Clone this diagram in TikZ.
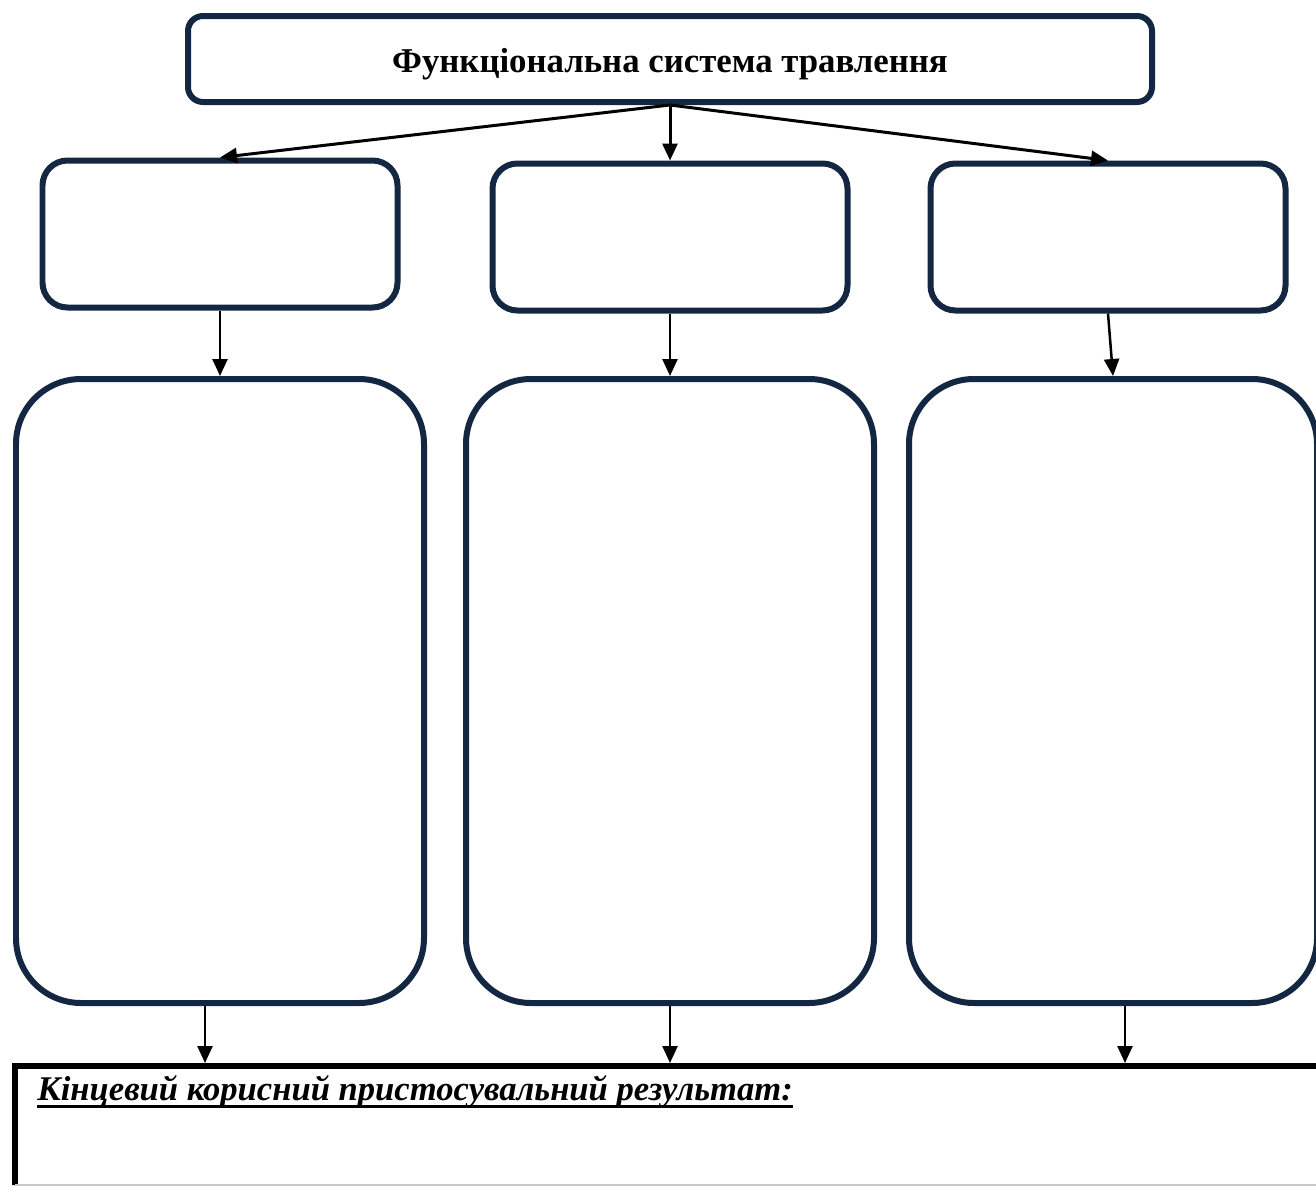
\documentclass[tikz,border=0pt]{standalone}
\usepackage{fontspec}
\setmainfont{Liberation Serif}
\usepackage{tikz}
\usetikzlibrary{arrows.meta,positioning}
\definecolor{fsNavy}{RGB}{20,39,66}
\definecolor{fsRule}{RGB}{200,200,200}
\newcommand{\pxu}{0.02cm}

\begin{document}
\begin{tikzpicture}[x=0.02cm,y=-0.02cm,
    box/.style={draw=fsNavy, line width=0.12cm, inner sep=0pt},
    headbox/.style={box, rounded corners=0.3cm, minimum width=964*\pxu, minimum height=86*\pxu},
    stagebox/.style={box, rounded corners=0.5cm, minimum width=355*\pxu, minimum height=147*\pxu},
    tallbox/.style={box, rounded corners=1.3cm, minimum width=408*\pxu, minimum height=624*\pxu},
    arr/.style={-{Triangle[length=0.34cm,width=0.3cm]}, line width=0.05cm}]
    \clip (0,0) rectangle (1316,1187);

    % header
    \node[headbox, text height=0.6cm, text depth=0.08cm] (sys) at (670,59)
        {\fontsize{19.8}{24}\selectfont\bfseries Функціональна система травлення};

    % three stages
    \node[stagebox] (s1) at (220,234) {};
    \node[stagebox] (s2) at (670,237) {};
    \node[stagebox] (s3) at (1108,237) {};

    \node[tallbox] (t1) at (220,691) {};
    \node[tallbox] (t2) at (670,691) {};
    \node[tallbox] (t3) at (1113,691) {};

    % result strip, runs off the right edge
    \node[minimum width=1385*\pxu, minimum height=119*\pxu, inner sep=0pt, outer sep=0pt] (res) at (707.5,1125.5) {};
    \draw[line width=0.12cm] (res.south west) -- ++(0,0.1) |- (res.north east);
    \draw[fsRule, line width=0.04cm] (res.south west) -- (res.south east);
    \node[anchor=base west, inner sep=0pt] (restxt) at (37,1100)
        {\fontsize{19.7}{24}\selectfont\bfseries\itshape Кінцевий корисний пристосувальний результат:};
    \draw[line width=0.06cm] ([yshift=-0.13cm]restxt.base west) -- ([yshift=-0.13cm]restxt.base east);

    % arrows
    \draw[arr, line width=0.06cm] (sys.south) -- (s1.north);
    \draw[arr, line width=0.06cm] (sys.south) -- (s2.north);
    \draw[arr, line width=0.06cm] (sys.south) -- (s3.north);

    \draw[arr] (s1.south) -- (t1.north);
    \draw[arr] (s2.south) -- (t2.north);
    \draw[arr] (s3.south) -- (t3.north);

    \draw[arr, shorten >=0.06cm] ([xshift=-0.3cm]t1.south) -- ([xshift=-0.3cm]t1.south |- res.north);
    \draw[arr, shorten >=0.06cm] (t2.south) -- (t2.south |- res.north);
    \draw[arr, shorten >=0.06cm] ([xshift=0.24cm]t3.south) -- ([xshift=0.24cm]t3.south |- res.north);
\end{tikzpicture}
\end{document}
